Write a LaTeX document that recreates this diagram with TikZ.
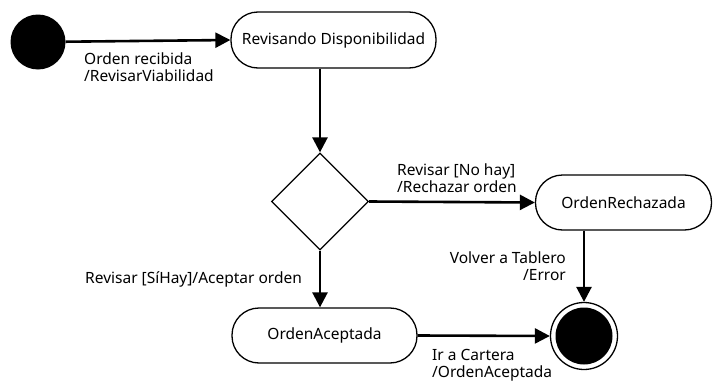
\documentclass[tikz,border=0pt]{standalone}
\usepackage{fontspec}
\setmainfont{Noto Sans}
\usetikzlibrary{arrows.meta,shapes.geometric}
\begin{document}
\begin{tikzpicture}[x=1pt,y=-1pt,
  every node/.style={font=\fontsize{15.5}{17}\selectfont},
  state/.style={draw,line width=1.3pt,rounded corners=27pt,minimum height=56pt,inner sep=0pt},
  flow/.style={line width=2.6pt,-{Triangle[length=15pt,width=15pt]}},
  lbl/.style={inner sep=0pt,align=left}]
\useasboundingbox (0,0) rectangle (713,383);
% initial and final pseudo-states
\node[circle,fill=black,minimum size=55pt,inner sep=0pt] (ini) at (38,42) {};
\node[circle,draw,line width=1.3pt,minimum size=67pt,inner sep=0pt] (fin) at (584,336) {};
\node[circle,fill=black,minimum size=57pt,inner sep=0pt] at (584,336) {};
% states
\node[state,minimum width=205pt] (rev) at (333.5,40) {Revisando Disponibilidad};
\node[state,minimum width=176pt,minimum height=55pt] (rech) at (623.5,202.5) {OrdenRechazada};
\node[state,minimum width=185pt,minimum height=55pt] (acep) at (324.5,335.5) {OrdenAceptada};
% decision
\node[diamond,draw,line width=1.3pt,minimum width=97pt,minimum height=97pt,inner sep=0pt] (dec) at (320,201.5) {};
% transitions
\draw[flow] (ini) -- (rev.west);
\draw[flow] (rev.south -| dec.north) -- (dec.north);
\draw[flow] (dec.east) -- (rech.west);
\draw[flow] (dec.south) -- (dec.south |- acep.north);
\draw[flow] (rech.south -| fin.north) -- (fin.north);
\draw[flow] (acep.east) -- (fin.west);
% transition labels (multi-line nodes sit on the last line's baseline)
\node[lbl,anchor=base west] (l1) at (84,81.5) {Orden recibida\\/RevisarViabilidad};
\node[lbl,anchor=base west] (l2) at (397,192.5) {Revisar [No hay]\\/Rechazar orden};
\node[lbl,anchor=base east,align=right] (l3) at (566,280) {Volver a Tablero\\/Error};
\node[lbl,anchor=base west] (l4) at (85,283) {Revisar [SíHay]/Aceptar orden};
\node[lbl,anchor=base west] (l5) at (432,377.5) {Ir a Cartera\\/OrdenAceptada};
\end{tikzpicture}
\end{document}
